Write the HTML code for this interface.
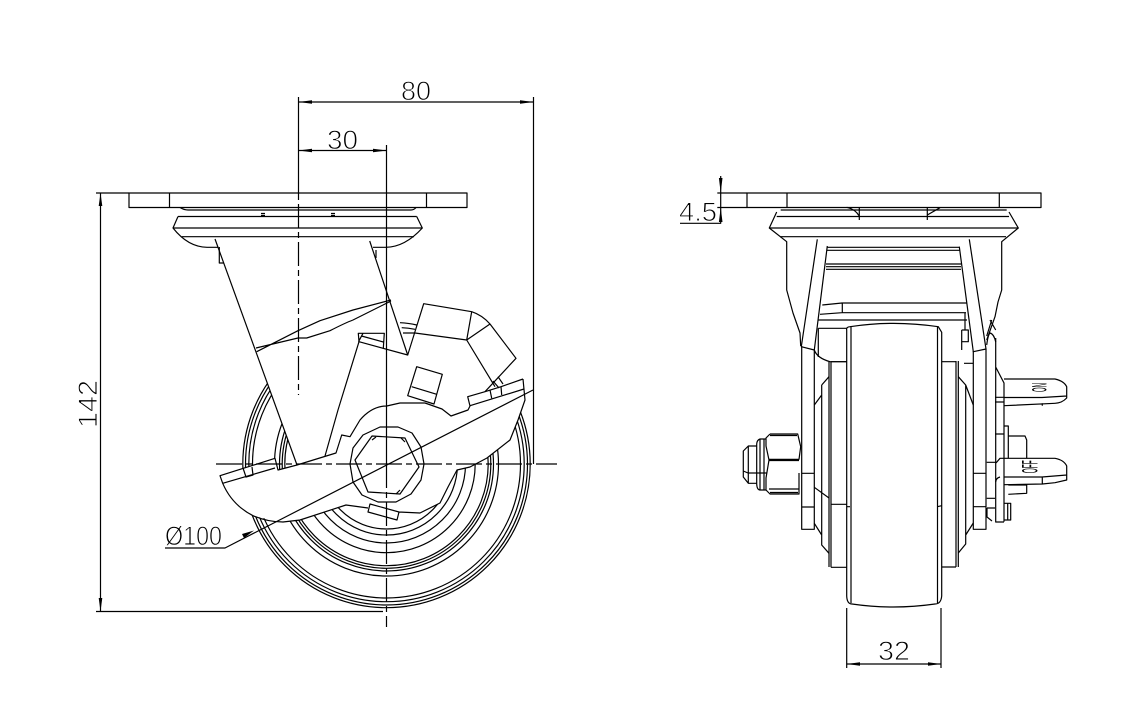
<!DOCTYPE html>
<html><head><meta charset="utf-8"><style>
html,body{margin:0;padding:0;background:#fff}
svg{display:block}
.l{fill:none;stroke:#000;stroke-width:1.2}
.w{fill:#fff;stroke:none}
.t{font-family:"Liberation Sans",sans-serif;font-size:27px;fill:#000;stroke:#fff;stroke-width:.9px}
.s{font-family:"Liberation Sans",sans-serif;fill:#000}
</style></head><body>
<svg width="1145" height="725" viewBox="0 0 1145 725" xmlns="http://www.w3.org/2000/svg">
<!-- wheel rings, left view -->
<g class="l">
<circle cx="386.5" cy="464" r="143.7"/><circle cx="386.5" cy="464" r="141"/><circle cx="386.5" cy="464" r="137.7"/><circle cx="386.5" cy="464" r="134"/>
<circle cx="386.5" cy="464" r="112"/><circle cx="386.5" cy="464" r="107"/><circle cx="386.5" cy="464" r="104.3"/><circle cx="386.5" cy="464" r="101.7"/>
<circle cx="386.5" cy="464" r="88.7"/><circle cx="386.5" cy="464" r="79"/><circle cx="386.5" cy="464" r="71"/><circle cx="386.5" cy="464" r="65"/>
</g>
<polygon class="w" points="215,239 297,465 278,470 275,458 220,476 223,483 253,516 283,522 300,520 346,505 368,508 398,520 400,512 420,513 440,503 448,487 457,470 470,467 487,458 510,440 518,420 525,400 540,380 540,200 215,200"/>
<g class="l" stroke-linejoin="round">
<!-- plate left view -->
<rect x="129" y="193" width="338" height="14.5"/>
<path d="M169.5 193V207.5M426.5 193V207.5"/>
<path d="M180 207.5Q184 210 188 210H411Q414 210 416 207.5M178 216.5H416.7M173 228H422.3M181.7 236.7H414"/>
<path d="M178 216.5L173 228Q188 247 207 247.3H218M416.7 216.5L422.3 228Q405 247 386 247.3H373"/>
<path d="M261 213.5H265M261 215.5H265M331 213.5H335M331 215.5H335"/>
<path d="M219.3 247V263H224M376 250V258"/>
<!-- fork -->
<path d="M215 239L297 465"/>
<path d="M369.7 241L407.7 355L359 341.7L338 410L325 456"/>
<path d="M256 348L298 338L306.7 338L330 330.7Q345 323 353 320L391 301M256.7 351.7L298 330.7L320 320.7L353 310L391 300"/>
<!-- pin -->
<path d="M359 341.7L358.3 333.3H384.3L383.3 348.3M363 333.3L358.5 341.7M361.5 336L383.3 342"/>
<!-- brake -->
<path d="M407.7 355L423.7 303.7L471.7 311.7Q482 315 490 324L516 358.3L485 391.7"/>
<path d="M471.7 311.7L466.7 340L415 333M490 324L466.7 340L495 386.7"/>
<path d="M400 322.7Q408 323 416.7 325M401.7 327.7Q408 328 415 329.3M403 333H415"/>
<path d="M498 376.7L503 384M493 381L499 388"/>
<path d="M416.7 366.7L442.3 374.3L434 404L407.7 395.7ZM411.7 386.7L436.7 394.3"/>
<!-- guard -->
<path d="M523 379L501 386.7L485 391.7L467.7 396.7L470 406L468 410L451 416L442 409L425 403L400 403L386.7 406Q372 406 360 420L350 436.7L341.7 435L336 453L297 465L278 470L275 458.3L220 475.7L222.7 483.3Q232 505 253 515.7Q268 522 283 522L300 520L346 505L368 508"/>
<path d="M222.7 483.3L275 468M243 468L246 477L253 475L252 467"/>
<path d="M370 504L368 512L397 520L399 512ZM399 512L420 513L440 503L448 487L457 470L470 467L487 458L510 440L518 420L525 400L523 379"/>
<path d="M490 390L491.7 398.3M501 386.7L501.7 395M470 405.7L524 389"/>
<!-- hub -->
<polygon points="350,464 353,448 363,435 380,427 398,427 412,433 421,447 424,464 421,480 411,494 396,502 378,502 362,495 353,482"/>
<polygon points="355,460 372,436 405,438 419,467 400,494 368,492"/>
<path d="M372 440L376 437M405 442L401 438M400 490L396 494"/>
<!-- leader + center lines -->
<path d="M533 390L225 548H165"/>
<path d="M298.5 97V200M533.5 97V464M386.5 145V464"/>
<path d="M298.5 204V395" stroke-dasharray="24 4 6 4"/>
<path d="M386.5 464V627" stroke-dasharray="24 4 6 4"/>
<path d="M216 464H557" stroke-dasharray="26 4 6 4"/>
<!-- dim lines -->
<path d="M298.5 102H533.5M298.5 150.5H386.5M96 193H129M100.5 193V611.5M96 611.5H383"/>
</g>
<g fill="#000">
<path d="M298.5 102L312 100.2L312 103.8ZM533.5 102L520 100.2L520 103.8ZM298.5 150.5L312 148.7L312 152.3ZM386.5 150.5L373 148.7L373 152.3ZM100.5 193L98.7 206L102.3 206ZM100.5 611.5L98.7 598L102.3 598ZM254 530.5L242 534L244 538Z"/>
</g>
<text class="t" x="401" y="100" textLength="30" lengthAdjust="spacingAndGlyphs">80</text>
<text class="t" x="327" y="149" textLength="31" lengthAdjust="spacingAndGlyphs">30</text>
<text class="t" transform="translate(97 428) rotate(-90)" textLength="48" lengthAdjust="spacingAndGlyphs">142</text>
<text class="t" x="165" y="545" textLength="57" lengthAdjust="spacingAndGlyphs">Ø100</text>
<!-- right view -->
<g class="l" stroke-linejoin="round">
<rect x="747" y="193" width="294" height="14.5"/>
<path d="M787 193V207.5M999.3 193V207.5"/>
<path d="M780.7 210H1006.7M776.7 216.5H1009M769.3 228H1018.3M780 236.7H1006"/>
<path d="M776.7 212L769.3 228L786.7 241.7V290L793 313L800 333L800.7 346"/>
<path d="M1009 212L1018.3 228L1001.7 241.7V290L998 302L995 316.7L986.7 340"/>
<path d="M846.7 207.3Q855 209 859.3 216M859.3 207V220M940 207.7L927.3 215M927.3 207V220"/>
<path d="M817.3 239.3L801.3 346.7L814.3 350L827.3 246M969.3 239.3L986 349L973.3 351.7L959.3 246.7"/>
<path d="M827 247.3H960M827 250.3H960M826 264H961M826 266.7H961M826 269.3H961"/>
<path d="M822.3 305L842 303H966.7M820 314.3L842 312.7H966M818.5 320H967M842.3 303V312.7"/>
<path d="M814.3 350Q817 358 830 361.7H846.7M818.3 328.3V357M818.3 328.3H846.7"/>
<path d="M965 313V330M961.7 330H968.3V341.7H961.7M961.7 330V350M990 320L995.7 330M986.7 336L991.7 320M986.7 345Q988 335 990 333Q994 334 995.7 342"/>
<!-- wheel -->
<path d="M846.7 330Q846 327 850 326.7Q893 320 938.3 326.7L941.7 332.3V596Q941 604 935 604Q893 610 852 604Q847 604 846.7 596Z"/>
<path d="M851 327V603M937.5 327V603"/>
<!-- left side stack -->
<path d="M801.7 346V529.3H814.3V350M801.7 473.3H814.3M801.7 507H814.3"/>
<path d="M814.3 405L821.7 395M821.7 385L829 376.7M821.7 385V545L829 553.3M814.3 523.3L821.7 535M814.3 487.3L829 498"/>
<path d="M829 361V567M831 361.7V567.3M831 361.7H846.7M831 567.3H846.7M831 504.3H846.7M846.7 506.7H850"/>
<!-- nut -->
<path d="M770 434H797.7L800.7 446.7L799 459.3H769M770 435.5H797M769 460.5H799M799 473V494H770L766 490V478L769 460L766 446V438L770 434M769 489H799M770 492.5H798"/>
<path d="M766 439H760Q757 440 756.7 444V484Q757 490 760 490H766M760 439V490M764 439V490M756.7 446H748.3L743.3 451V477L748.3 483.3H756.7M748.3 446V483.3M743.3 471L748 473H767"/>
<!-- right side stack -->
<path d="M956 361V567M958.3 361V567M941.7 361.7H956M941.7 567H956M964 363.3H973.3M937.3 506.7L941.7 505.7"/>
<path d="M958.3 376.7L965.7 385L973.3 405M965.7 385V544L958.3 553M965.7 535L973.3 523"/>
<path d="M973.3 351V529.3H986V349M973.3 473.3H986M973.3 506.7H986"/>
<path d="M986.7 462.3H995.7M986.7 498.3H995M987 508H995M987 508V517L992 521"/>
<path d="M995.7 338V367L1004 383V521.7M995.7 360V463M995 397.3H1004M995 402H1004M995 434H1004"/>
<path d="M1004 379H1055Q1064 381 1066.7 386.7V398Q1062 403 1055 403.3L1004 405.7M1042.3 403.3V405.7M1004 397.5H1042L1066.7 396"/>
<path d="M1004 426H1008.3V458.3M1008.3 436H1025L1026.7 440V458.3M1008.3 485H1026.7V493.3L1008.3 494.3"/>
<path d="M996 463L1000 458.3H1055Q1064 460 1066.7 466V480L1055 482.7L1042.3 484L1004 484.7M1042.3 477V484M1004 477H1042L1066.7 475M1000 477Q996 478 995.7 482V522H1004M1004 503.3H1010.7V520H1004M1007.7 503.3V520"/>
<path d="M995.7 463V482"/>
<!-- dims -->
<path d="M717.3 193H747M717.3 207.5H747M680 223.3H720.7V176"/>
<path d="M846.7 608V668M941 608V668M846.7 664H941"/>
</g>
<g fill="#000">
<path d="M720.7 193L718.9 178L722.5 178ZM720.7 207.5L718.9 222L722.5 222ZM846.7 664L860 662.2L860 665.8ZM941 664L928 662.2L928 665.8Z"/>
</g>
<text class="t" x="679" y="221" textLength="38" lengthAdjust="spacingAndGlyphs">4.5</text>
<text class="t" x="878" y="660" textLength="32" lengthAdjust="spacingAndGlyphs">32</text>
<text class="s" font-size="21" textLength="9" lengthAdjust="spacingAndGlyphs" transform="translate(1046.7 392) rotate(-90)">ON</text>
<text class="s" font-size="22" textLength="13" lengthAdjust="spacingAndGlyphs" transform="translate(1037.7 473.3) rotate(-90)">OFF</text>
</svg>
</body></html>
